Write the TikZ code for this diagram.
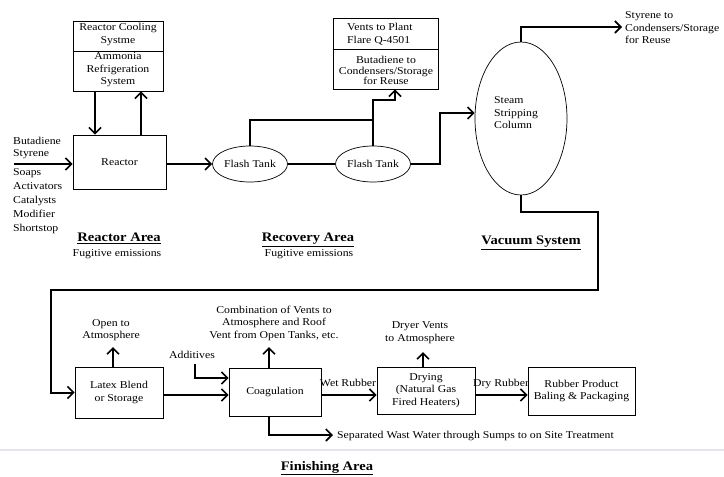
\documentclass[tikz,border=0pt]{standalone}
\usepackage{fontspec}
\setmainfont[FakeStretch=1.12]{Liberation Serif}
\usetikzlibrary{arrows.meta,shapes.geometric}
\newcommand\dfont{\fontsize{10.5}{12.5}\selectfont}
\newcommand\tfont{\fontsize{13}{15}\selectfont\bfseries}
\definecolor{scanline}{RGB}{226,229,240}
\begin{document}
\begin{tikzpicture}[x=1pt,y=-1pt,
  box/.style={draw, line width=0.9pt, inner sep=0pt, align=center, font=\dfont},
  tank/.style={draw, ellipse, line width=0.7pt, inner sep=0pt, font=\dfont},
  lbl/.style={align=center, font=\dfont, inner sep=0pt},
  lbll/.style={align=left, font=\dfont, inner sep=0pt},
  ttl/.style={font=\tfont, inner sep=0pt},
  pipe/.style={line width=2pt},
  flow/.style={line width=2pt, -{Straight Barb[length=6pt,width=12pt,line width=1.6pt]}}]
\useasboundingbox (0,0) rectangle (724,477);
\fill[white] (0,0) rectangle (724,477);

% ---------- Reactor area ----------
\node[box, minimum width=90, minimum height=70] (cool) at (118,56) {};
\coordinate (cdiv) at (0,51);
\draw[line width=0.9pt] (cool.west |- cdiv) -- (cool.east |- cdiv);
\node[lbl] (coolA) at (118,34.5) {Reactor Cooling\\Systme};
\node[lbl] (coolB) at (118,70) {Ammonia\\Refrigeration\\System};
\node[box, minimum width=93, minimum height=54] (reactor) at (119.5,162) {Reactor};

\coordinate (dn) at (95,0);
\coordinate (up) at (141,0);
\draw[flow] (cool.south -| dn) -- (reactor.north -| dn);
\draw[flow] (reactor.north -| up) -- (cool.south -| up);

\coordinate (in) at (14,164);
\draw[flow] (in) -- (reactor.west |- in);
\node[lbll, anchor=west] (feedA) at (13,148) {Butadiene\\Styrene};
\node[lbll, anchor=west, font=\fontsize{10.5}{14}\selectfont] (feedB) at (13,201) {Soaps\\Activators\\Catalysts\\Modifier\\Shortstop};

% ---------- Recovery area ----------
\node[tank, minimum width=75, minimum height=36] (ft1) at (250,164) {Flash Tank};
\node[tank, minimum width=75, minimum height=36] (ft2) at (373,164) {Flash Tank};
\draw[flow] (reactor.east |- ft1) -- (ft1.west);
\draw[pipe] (ft1.east) -- (ft2.west);

\node[box, minimum width=105, minimum height=71] (vents) at (385.5,53.5) {};
\coordinate (vdiv) at (0,49);
\draw[line width=0.9pt] (vents.west |- vdiv) -- (vents.east |- vdiv);
\node[lbll, anchor=west, font=\fontsize{10.5}{13}\selectfont] (ventsA) at (347,34.5) {Vents to Plant\\Flare Q-4501};
\node[lbl, font=\fontsize{10.5}{10.5}\selectfont] (ventsB) at (386,70.5) {Butadiene to\\Condensers/Storage\\for Reuse};

\coordinate (r1) at (0,120);
\draw[pipe] (ft1.north) |- (ft2.north |- r1);
\coordinate (j1) at (395,100);
\draw[flow] (ft2.north) |- (j1) -- (vents.south -| j1);

% ---------- Vacuum system ----------
\node[tank, minimum width=92, minimum height=153] (col) at (521,118.5) {};
\node[lbll, anchor=west] (colT) at (494,113) {Steam\\Stripping\\Column};
\coordinate (r2) at (440,113);
\draw[flow] (ft2.east) -| (r2) -- (col.west |- r2);

\coordinate (so) at (622,27);
\draw[flow] (col.north) |- (so);
\node[lbll, anchor=west] (styr) at (625,28) {Styrene to\\Condensers/Storage\\for Reuse};

% ---------- Finishing area ----------
\node[box, minimum width=88, minimum height=51] (latex) at (119,392.5) {Latex Blend\\or Storage};
\node[box, minimum width=92, minimum height=48] (coag) at (275,392) {Coagulation};
\node[box, minimum width=98, minimum height=47] (dry) at (426,390.5) {Drying\\(Natural Gas\\Fired Heaters)};
\node[box, minimum width=107, minimum height=48] (rub) at (581.5,391) {Rubber Product\\Baling \& Packaging};

\coordinate (c1) at (598,212);
\coordinate (c2) at (51,290);
\draw[flow] (col.south) |- (c1) |- (c2) |- (latex.west);

\coordinate (fy) at (0,395);
\draw[flow] (latex.east |- fy) -- (coag.west |- fy);
\draw[flow] (coag.east |- fy) -- (dry.west |- fy);
\draw[flow] (dry.east |- fy) -- (rub.west |- fy);
\node[lbl] (wet) at (348,383) {Wet Rubber};
\node[lbl] (dryr) at (501,384) {Dry Rubber};

\coordinate (u1) at (113,347);
\coordinate (u2) at (269,347);
\coordinate (u3) at (423,352);
\draw[flow] (latex.north -| u1) -- (u1);
\draw[flow] (coag.north -| u2) -- (u2);
\draw[flow] (dry.north -| u3) -- (u3);
\node[lbl] (open) at (111,330) {Open to\\Atmosphere};
\node[lbl] (comb) at (274,323) {Combination of Vents to\\Atmosphere and Roof\\Vent from Open Tanks, etc.};
\node[lbl] (dvent) at (420,332.5) {Dryer Vents\\to Atmosphere};

\node[lbl] (addl) at (192,355) {Additives};
\coordinate (a1) at (195,364);
\coordinate (a2) at (0,378);
\draw[flow] (a1) |- (coag.west |- a2);

\coordinate (w1) at (269,0);
\coordinate (w2) at (333,435);
\draw[flow] (coag.south -| w1) |- (w2);
\node[lbll, anchor=west] (wwl) at (337,436) {Separated Wast Water through Sumps to on Site Treatment};

% ---------- titles ----------
\node[ttl] (t1) at (119,238) {\underline{Reactor Area}};
\node[lbl] (f1) at (117,254) {Fugitive emissions};
\node[ttl] (t2) at (308,240) {\underline{Recovery Area}};
\node[lbl] (f2) at (309,254) {Fugitive emissions};
\node[ttl] (t3) at (531,243) {\underline{Vacuum System}};

\draw[line width=2.5pt, scanline] (0,450) -- (724,450);
\node[ttl] (t4) at (327,468) {\underline{Finishing Area}};
\end{tikzpicture}
\end{document}
